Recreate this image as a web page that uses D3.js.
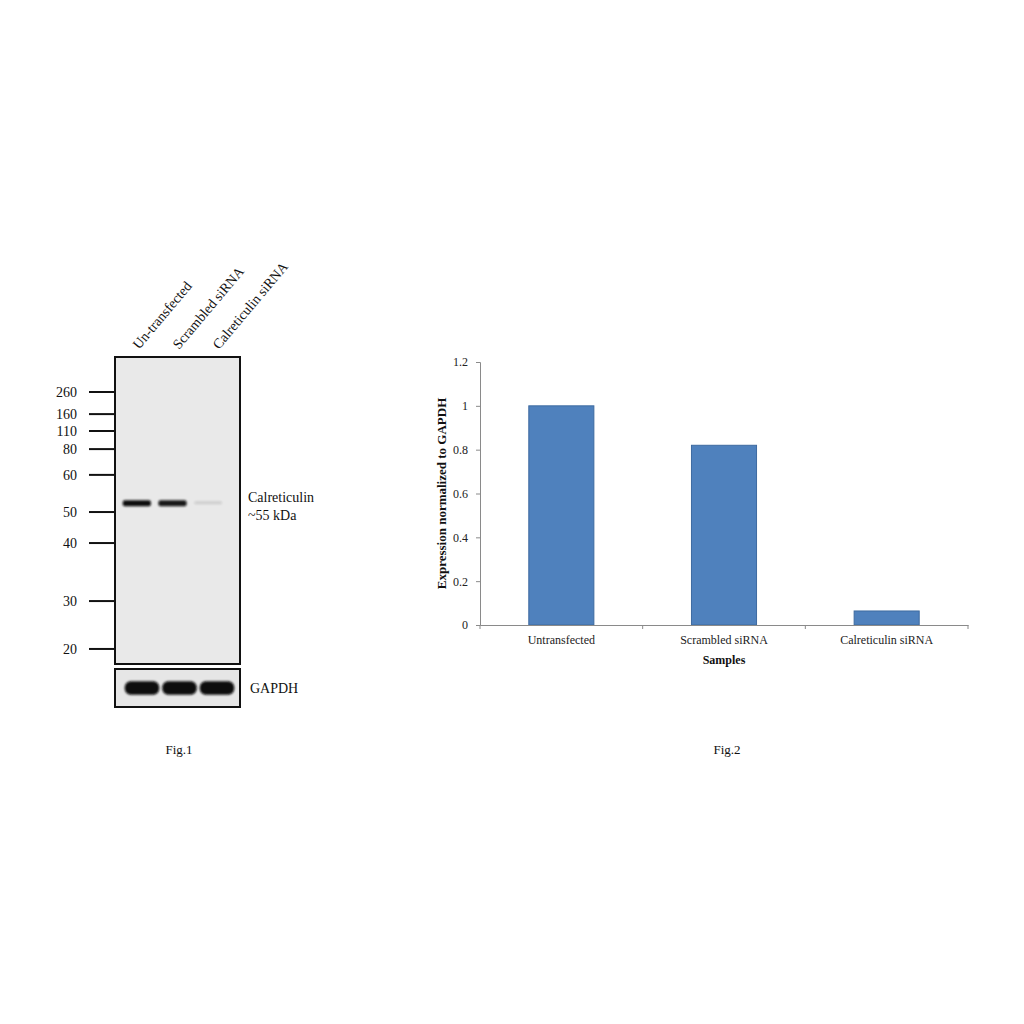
<!DOCTYPE html>
<html><head><meta charset="utf-8">
<script src="https://cdn.jsdelivr.net/npm/d3@7"></script>
<style>body{margin:0;background:#fff}svg{display:block}</style>
</head><body>
<script>
// ---- Fig.1 western blot data ----
const laneLabels = ["Un-transfected", "Scrambled siRNA", "Calreticulin siRNA"];
const markerKDa = [260, 160, 110, 80, 60, 50, 40, 30, 20];
const markerMigration = [0.114, 0.186, 0.241, 0.300, 0.384, 0.505, 0.606, 0.795, 0.951];
const calreticulinMigration = 0.476;
const calreticulinIntensity = [1.0, 0.95, 0.12];
const gapdhIntensity = [1.0, 1.0, 1.0];
// ---- Fig.2 bar chart data ----
const samples = ["Untransfected", "Scrambled siRNA", "Calreticulin siRNA"];
const expression = [1.0, 0.82, 0.064];
const yTicks = [0, 0.2, 0.4, 0.6, 0.8, 1, 1.2];

const svg = d3.select("body").append("svg").attr("width", 1024).attr("height", 1024)
  .style("font-family", "'Liberation Serif', 'Times New Roman', serif");
const defs = svg.append("defs");
defs.append("filter").attr("id", "blur1").attr("x", "-20%").attr("y", "-100%").attr("width", "140%").attr("height", "300%")
  .append("feGaussianBlur").attr("stdDeviation", 0.9);
defs.append("filter").attr("id", "blur2").attr("x", "-20%").attr("y", "-100%").attr("width", "140%").attr("height", "300%")
  .append("feGaussianBlur").attr("stdDeviation", 1.2);

// ===== Fig.1 =====
const gel = {x0: 115, x1: 240, y0: 357, y1: 664};
const g2 = {y0: 669, y1: 707};
const yMig = d3.scaleLinear().domain([0, 1]).range([gel.y0, gel.y1]);
const lane = d3.scaleBand().domain(laneLabels).range([119, 226]).paddingInner(0.1).paddingOuter(0.05);
const laneG = d3.scaleBand().domain(laneLabels).range([124, 235]).paddingInner(0.08).paddingOuter(0.02);
const labelPos = d3.scalePoint().domain(laneLabels).range([139, 219]);

const f1 = svg.append("g");
f1.append("rect").attr("x", gel.x0).attr("y", gel.y0).attr("width", gel.x1 - gel.x0).attr("height", gel.y1 - gel.y0)
  .attr("fill", "#e9e9e9").attr("stroke", "#111").attr("stroke-width", 2);
f1.append("rect").attr("x", gel.x0).attr("y", g2.y0).attr("width", gel.x1 - gel.x0).attr("height", g2.y1 - g2.y0)
  .attr("fill", "#e6e6e6").attr("stroke", "#111").attr("stroke-width", 2);

// Marker ticks and labels
const mk = f1.selectAll("g.mk").data(markerKDa.map((k, i) => ({k, m: markerMigration[i]}))).join("g").attr("class", "mk");
mk.append("line").attr("x1", 89).attr("x2", gel.x0).attr("y1", d => yMig(d.m)).attr("y2", d => yMig(d.m))
  .attr("stroke", "#111").attr("stroke-width", 2);
mk.append("text").attr("x", 77).attr("y", d => yMig(d.m)).attr("dy", "0.35em").attr("text-anchor", "end")
  .attr("font-size", 14).attr("fill", "#111").text(d => d.k);

// Calreticulin bands
f1.selectAll("rect.cb").data(laneLabels.map((l, i) => ({l, v: calreticulinIntensity[i]}))).join("rect").attr("class", "cb")
  .attr("x", d => lane(d.l) + 2).attr("width", lane.bandwidth() - 4)
  .attr("y", d => yMig(calreticulinMigration) - (d.v > 0.5 ? 3 : 2)).attr("height", d => d.v > 0.5 ? 6 : 3)
  .attr("rx", 2).attr("fill", "#0a0a0a").attr("opacity", d => d.v).attr("filter", "url(#blur1)");

// GAPDH bands
const gY = d3.scaleLinear().domain([0, 1]).range([g2.y0, g2.y1]);
f1.selectAll("rect.gb").data(laneLabels.map((l, i) => ({l, v: gapdhIntensity[i]}))).join("rect").attr("class", "gb")
  .attr("x", d => laneG(d.l)).attr("width", laneG.bandwidth())
  .attr("y", gY(0.32)).attr("height", gY(0.68) - gY(0.32))
  .attr("rx", 6).attr("fill", "#0a0a0a").attr("opacity", d => d.v).attr("filter", "url(#blur2)");

// Lane labels
f1.selectAll("text.ll").data(laneLabels).join("text").attr("class", "ll")
  .attr("transform", d => `translate(${labelPos(d)},350) rotate(-50)`)
  .attr("font-size", 14).attr("fill", "#111").text(d => d);

f1.append("text").attr("x", 248).attr("y", yMig(calreticulinMigration)).attr("dy", "-0.1em")
  .attr("font-size", 14).attr("fill", "#111").text("Calreticulin");
f1.append("text").attr("x", 248).attr("y", yMig(calreticulinMigration) + 18).attr("dy", "-0.1em")
  .attr("font-size", 14).attr("fill", "#111").text("~55 kDa");
f1.append("text").attr("x", 250).attr("y", (g2.y0 + g2.y1) / 2).attr("dy", "0.35em")
  .attr("font-size", 14).attr("fill", "#111").text("GAPDH");
f1.append("text").attr("x", 179).attr("y", 754).attr("text-anchor", "middle")
  .attr("font-size", 13).attr("fill", "#111").text("Fig.1");

// ===== Fig.2 =====
const m = {l: 480, r: 968, t: 362, b: 625};
const x = d3.scaleBand().domain(samples).range([m.l, m.r]).paddingInner(0.6).paddingOuter(0.3);
const xb = d3.scaleBand().domain(samples).range([m.l, m.r]);
const y = d3.scaleLinear().domain([0, 1.2]).range([m.b, m.t]);
const f2 = svg.append("g");

// y axis
const ya = f2.append("g").attr("transform", `translate(${m.l},0)`)
  .call(d3.axisLeft(y).tickValues(yTicks).tickSize(4).tickPadding(8).tickFormat(d3.format("~g")));
ya.select(".domain").attr("stroke", "#8a8a8a");
ya.selectAll(".tick line").attr("stroke", "#8a8a8a");
ya.selectAll("text").attr("font-family", "'Liberation Serif', serif").attr("font-size", 12).attr("fill", "#222");

// bars
f2.selectAll("rect.bar").data(samples.map((s, i) => ({s, v: expression[i]}))).join("rect").attr("class", "bar")
  .attr("x", d => x(d.s)).attr("width", x.bandwidth())
  .attr("y", d => y(d.v)).attr("height", d => y(0) - y(d.v))
  .attr("fill", "#4f81bd").attr("stroke", "#3d6aa0").attr("stroke-width", 1);

// x axis
const xa = f2.append("g").attr("transform", `translate(0,${m.b})`)
  .call(d3.axisBottom(xb).tickSize(0).tickPadding(10));
xa.select(".domain").attr("stroke", "#8a8a8a");
xa.selectAll("text").attr("font-family", "'Liberation Serif', serif").attr("font-size", 12).attr("fill", "#222");
f2.selectAll("line.xt").data(samples.map(s => xb(s)).concat([m.r])).join("line").attr("class", "xt")
  .attr("x1", d => d).attr("x2", d => d).attr("y1", m.b).attr("y2", m.b + 4).attr("stroke", "#8a8a8a");

f2.append("text").attr("x", (m.l + m.r) / 2).attr("y", 664).attr("text-anchor", "middle")
  .attr("font-size", 12).attr("font-weight", "bold").attr("fill", "#111").text("Samples");
f2.append("text").attr("transform", `translate(446,${(m.t + m.b) / 2}) rotate(-90)`).attr("text-anchor", "middle")
  .attr("font-size", 13).attr("font-weight", "bold").attr("fill", "#111").text("Expression normalized to GAPDH");
f2.append("text").attr("x", 727).attr("y", 754).attr("text-anchor", "middle")
  .attr("font-size", 13).attr("fill", "#111").text("Fig.2");
</script>
</body></html>
